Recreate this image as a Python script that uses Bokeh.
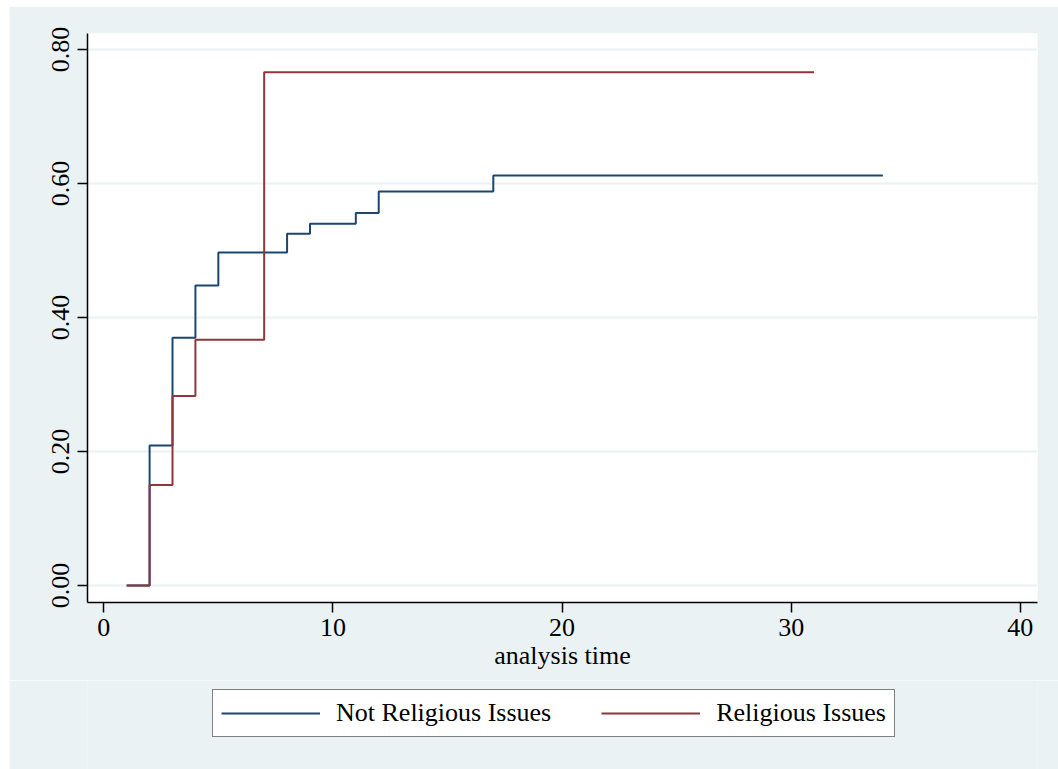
from bokeh.plotting import figure
from bokeh.models import Legend, LegendItem, FixedTicker, PrintfTickFormatter, Range1d
from bokeh.layouts import column
from bokeh.embed import file_html
from bokeh.resources import INLINE

# Data (Kaplan-Meier failure estimates)
not_rel_time = [1, 2, 3, 4, 5, 8, 9, 11, 12, 17, 34]
not_rel_fail = [0.0, 0.209, 0.370, 0.448, 0.497, 0.525, 0.540, 0.556, 0.588, 0.612, 0.612]
rel_time = [1, 2, 3, 4, 7, 31]
rel_fail = [0.0, 0.150, 0.283, 0.367, 0.766, 0.766]

x_ticks = [0, 10, 20, 30, 40]
y_ticks = [0.0, 0.2, 0.4, 0.6, 0.8]
labels = ["Not Religious Issues", "Religious Issues"]
x_title = "analysis time"

BG = "#EAF2F3"
NAVY = "#1A476F"
MAROON = "#90353B"
FONT = "Liberation Serif"
FS = "26px"

p = figure(width=1049, height=674, output_backend="svg", toolbar_location=None,
           x_range=Range1d(-0.71, 40.75), y_range=Range1d(-0.0254, 0.824),
           min_border_left=78, min_border_right=21, min_border_top=27, min_border_bottom=78)
p.margin = (6, 0, 0, 9)
p.border_fill_color = BG
p.background_fill_color = "white"
p.outline_line_color = None

r1 = p.step(not_rel_time, not_rel_fail, mode="after", line_color=NAVY, line_width=2)
r2 = p.step(rel_time, rel_fail, mode="after", line_color=MAROON, line_width=2)

p.xgrid.grid_line_color = None
p.ygrid.grid_line_color = BG
p.ygrid.grid_line_width = 2

for ax in (p.xaxis[0], p.yaxis[0]):
    ax.axis_line_color = "black"
    ax.axis_line_width = 1.5
    ax.major_tick_line_color = "black"
    ax.major_tick_line_width = 1.5
    ax.major_tick_out = 10
    ax.major_tick_in = 0
    ax.minor_tick_line_color = None
    ax.major_label_text_font = FONT
    ax.major_label_text_font_size = FS
    ax.major_label_text_color = "black"

p.xaxis.ticker = FixedTicker(ticks=x_ticks)
p.yaxis.ticker = FixedTicker(ticks=y_ticks)
p.yaxis.formatter = PrintfTickFormatter(format="%.2f")
p.yaxis.major_label_orientation = "vertical"
p.yaxis.major_label_standoff = 8
p.xaxis.major_label_standoff = 6
p.xaxis.axis_label = x_title
p.xaxis.axis_label_text_font = FONT
p.xaxis.axis_label_text_font_size = FS
p.xaxis.axis_label_text_font_style = "normal"
p.xaxis.axis_label_text_color = "black"
p.xaxis.axis_label_standoff = 2

# Legend strip below the chart (keys reuse the series' styles; samples sit outside the visible range)
p2 = figure(width=1049, height=89, output_backend="svg", toolbar_location=None,
            x_axis_type=None, y_axis_type=None,
            x_range=Range1d(0, 1), y_range=Range1d(0, 1),
            min_border_left=0, min_border_right=0, min_border_top=0, min_border_bottom=0)
p2.margin = (0, 0, 0, 9)
p2.grid.visible = False
p2.outline_line_color = None
p2.border_fill_color = BG
p2.background_fill_color = BG
k1 = p2.line(not_rel_time[:2], [-5, -5], line_color=NAVY, line_width=2)
k2 = p2.line(rel_time[:2], [-5, -5], line_color=MAROON, line_width=2)

legend = Legend(items=[LegendItem(label=labels[0], renderers=[k1]),
                       LegendItem(label=labels[1], renderers=[k2])],
                location=(125, 32), orientation="horizontal")
legend.label_text_font = FONT
legend.label_text_font_size = FS
legend.label_text_color = "black"
legend.glyph_width = 99
legend.label_standoff = 16
legend.spacing = 50
legend.padding = 8
legend.margin = 0
legend.border_line_color = "black"
legend.border_line_width = 1.5
legend.background_fill_color = "white"
legend.background_fill_alpha = 1.0
p2.add_layout(legend, "center")

layout = column(p, p2, spacing=0)
open("out.html", "w").write(file_html(layout, INLINE))
